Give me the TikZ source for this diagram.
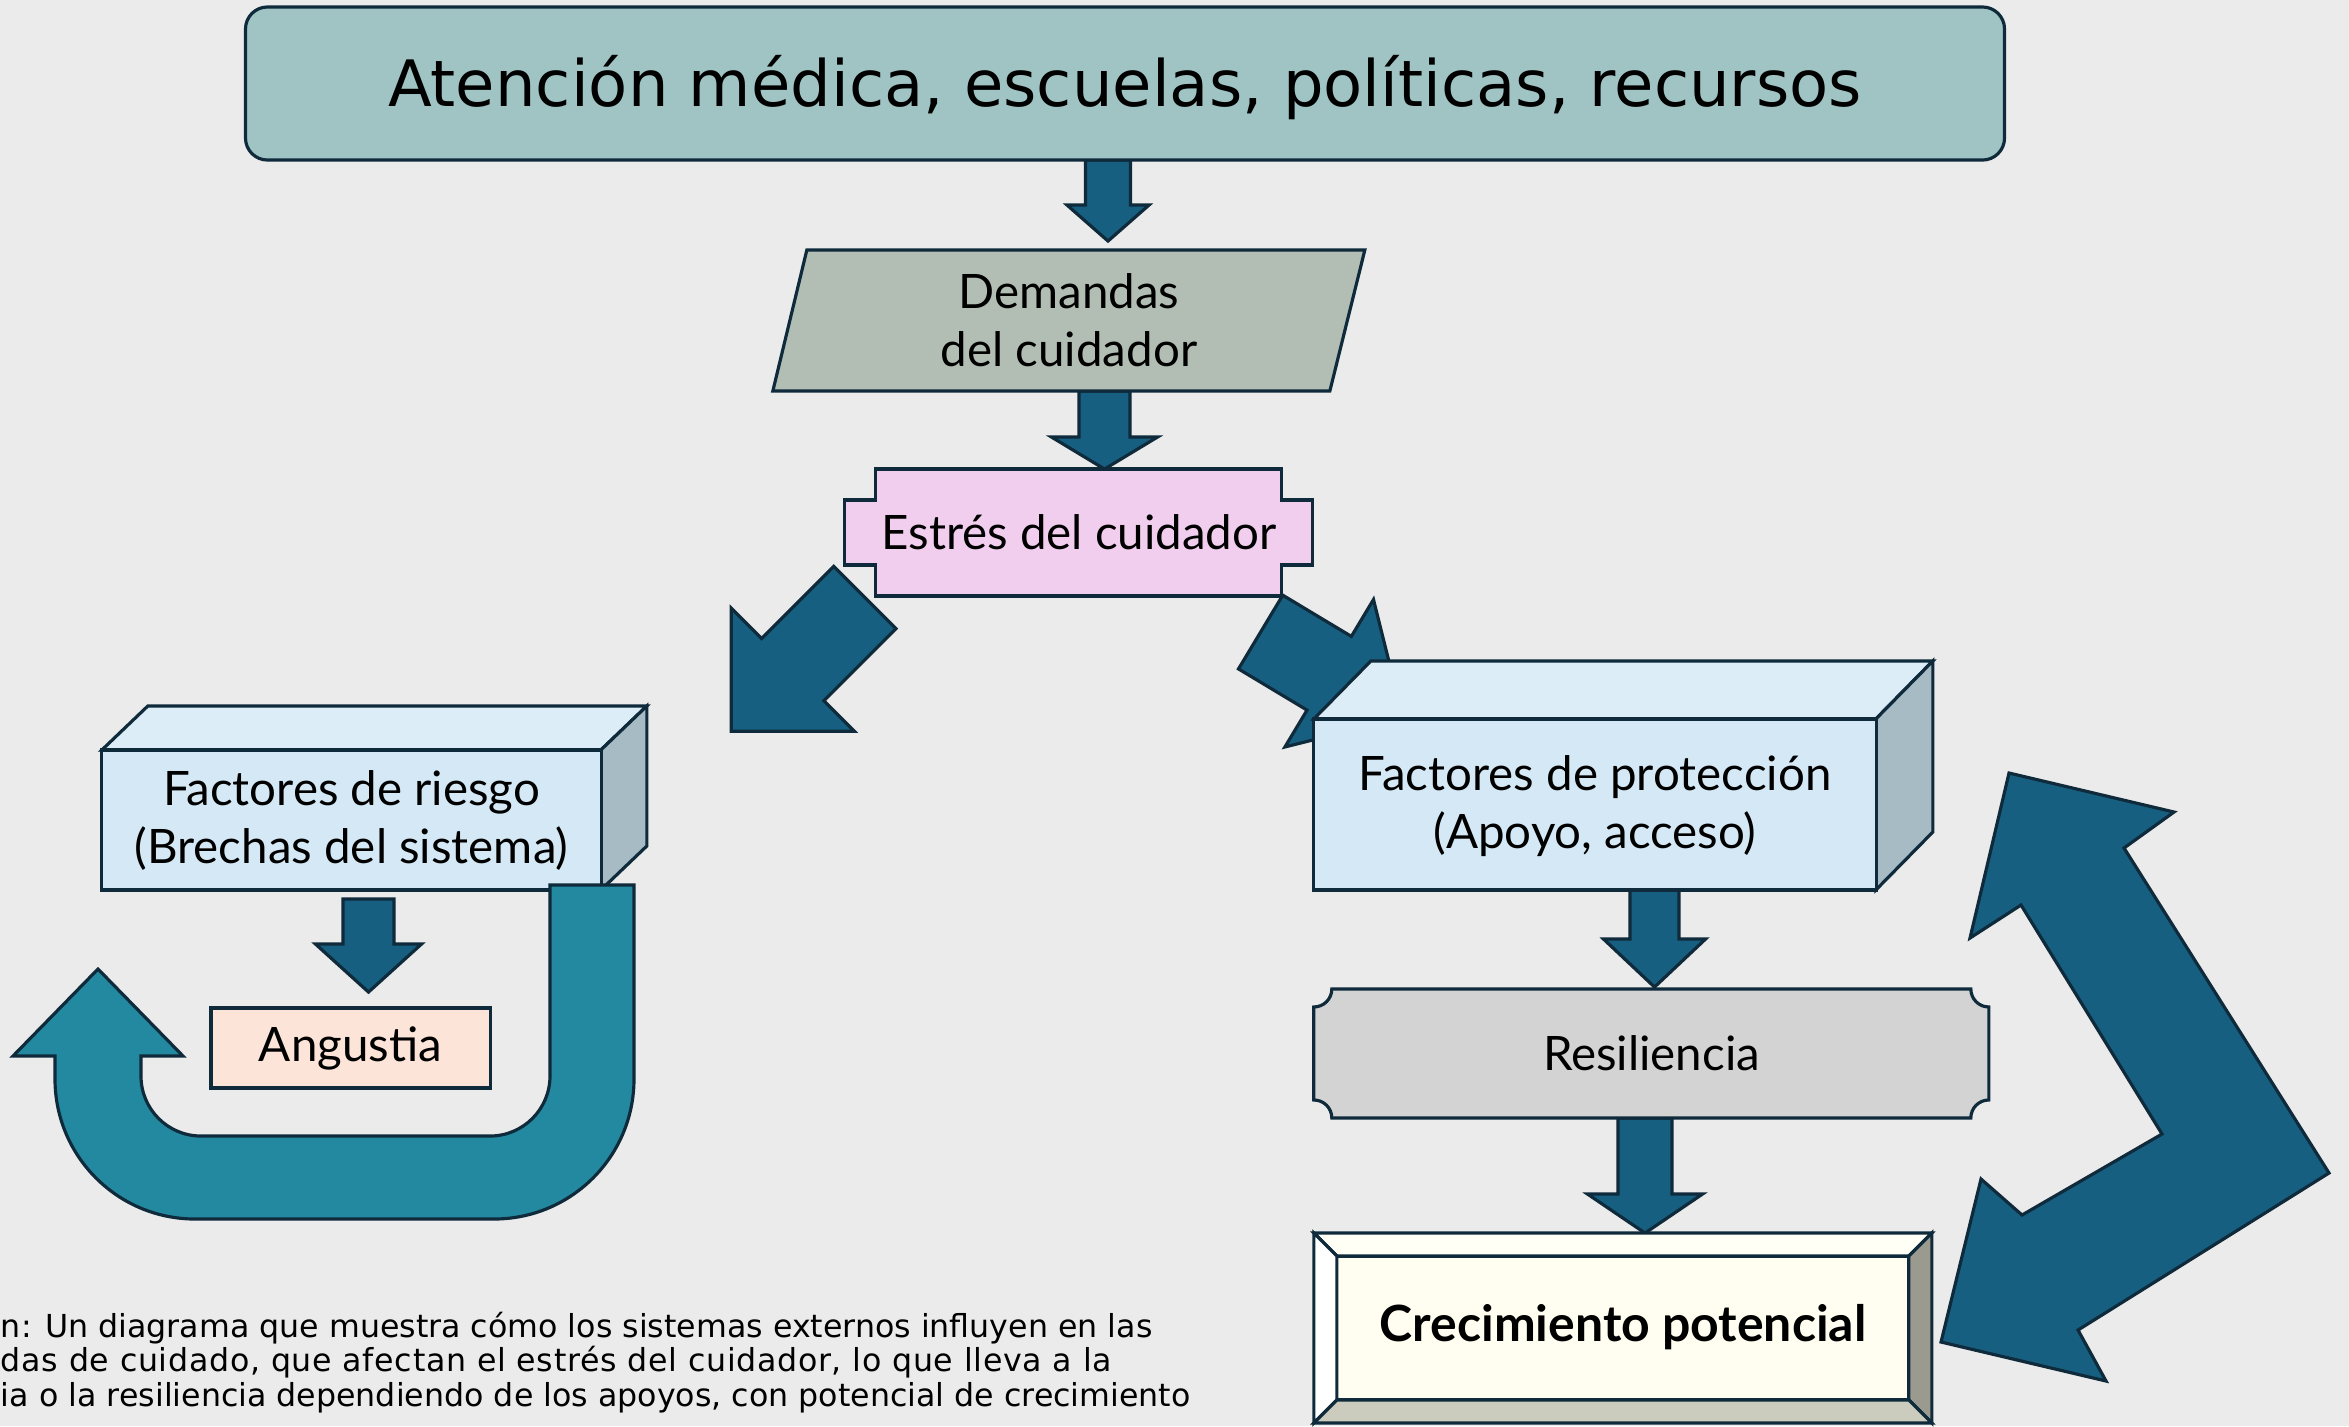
\documentclass[tikz,border=0pt]{standalone}
\usepackage{fontspec}
\setmainfont{Lato}
\newfontfamily\verdfont{DejaVu Sans}
\usetikzlibrary{calc}

\definecolor{bgcol}{HTML}{EBEBEB}
\definecolor{linecol}{HTML}{0E2A3B}
\definecolor{arrowcol}{HTML}{175F80}
\definecolor{loopcol}{HTML}{2389A0}
\definecolor{titlecol}{HTML}{A0C4C4}
\definecolor{demcol}{HTML}{B2BDB3}
\definecolor{estcol}{HTML}{F2CEEE}
\definecolor{frontcol}{HTML}{D4E9F5}
\definecolor{topcol}{HTML}{DCEDF7}
\definecolor{sidecol}{HTML}{A7BBC5}
\definecolor{angcol}{HTML}{FDE4D8}
\definecolor{rescol}{HTML}{D3D3D3}
\definecolor{crcol}{HTML}{FFFEF0}
\definecolor{bevtop}{HTML}{FFFFF6}
\definecolor{bevright}{HTML}{9A9A8E}
\definecolor{bevbottom}{HTML}{CBCBBE}

\pgfdeclarelayer{bglayer}
\pgfdeclarelayer{arrowlayer}
\pgfdeclarelayer{shapelayer}
\pgfsetlayers{bglayer,arrowlayer,shapelayer,main}

\tikzset{
  every node/.style={inner sep=0pt, outer sep=0pt},
  outline/.style={draw=linecol, line width=0.9pt},
  blockarrow/.style={outline, fill=arrowcol},
  lbl/.style={font=\fontsize{13.5}{16.5}\selectfont, align=center, text=black},
  capt/.style={font=\verdfont\fontsize{9}{9.8}\selectfont, align=left, text=black},
}

% block arrow: start, angle, shaft length, shaft half width, head half width, head length
\newcommand{\blockarr}[6]{%
  \begin{scope}[shift={#1}, rotate=#2]
    \filldraw[blockarrow] (0,-#4) -- (#3,-#4) -- (#3,-#5) -- ({#3+#6},0)
      -- (#3,#5) -- (#3,#4) -- (0,#4) -- cycle;
  \end{scope}}
% text lowered inside its node
\newcommand{\lowtext}[2]{\raisebox{-#1}[\height][\depth]{\begin{tabular}{@{}c@{}}#2\end{tabular}}}

\begin{document}
\begin{tikzpicture}[x=0.01cm, y=-0.01cm]
  \useasboundingbox (0,0) rectangle (2349,1426);
  \begin{pgfonlayer}{bglayer}
    \fill[bgcol] (0,0) rectangle (2349,1426);
  \end{pgfonlayer}

  % boxes
  \node[outline, fill=titlecol, rounded corners=0.22cm, minimum width=17.58cm, minimum height=1.53cm,
        font=\verdfont\fontsize{18.2}{22}\selectfont] (title) at (1125,83.5)
    {\lowtext{2.2pt}{Atención médica, escuelas, políticas, recursos}};
  \node[lbl, minimum width=5.58cm, minimum height=1.41cm] (dem) at (1069,320.5) {Demandas\\del cuidador};
  \node[lbl, minimum width=4.06cm, minimum height=1.27cm] (est) at (1079,532.5) {Estrés del cuidador};
  \node[lbl, outline, fill=frontcol, minimum width=4.99cm, minimum height=1.40cm] (fr) at (351.5,820)
    {\lowtext{0.9pt}{Factores de riesgo\\(Brechas del sistema)}};
  \node[lbl, outline, fill=angcol, minimum width=2.79cm, minimum height=0.80cm] (ang) at (350.5,1048) {Angustia};
  \node[lbl, outline, fill=frontcol, minimum width=5.62cm, minimum height=1.71cm] (fp) at (1595,804.5)
    {\lowtext{1pt}{Factores de protección\\(Apoyo, acceso)}};
  \node[lbl, font=\fontsize{14.2}{17}\selectfont\bfseries, minimum width=6.18cm, minimum height=1.90cm]
    (cr) at (1623,1328) {\lowtext{0.5pt}{Crecimiento potencial}};
  \node[lbl, minimum width=6.75cm, minimum height=1.29cm] (res) at (1651.5,1053.5) {Resiliencia};

  \node[capt, anchor=north west] (desc) at (1,1312)
    {n: Un diagrama que muestra cómo los sistemas externos influyen en las\\
     {\addfontfeature{LetterSpace=2.2}das de cuidado, que afectan el estrés del cuidador, lo que lleva a la}\\
     ia o la resiliencia dependiendo de los apoyos, con potencial de crecimiento};

  % shapes behind the texts
  \begin{pgfonlayer}{shapelayer}
    \begin{scope}[shift={(dem.north west)}]
      \filldraw[outline, fill=demcol] (17,0) -- (575,0) -- (540,141) -- (-17,141) -- cycle;
    \end{scope}
    \begin{scope}[shift={(est.north west)}]
      \filldraw[outline, fill=estcol] (0,0) -- (406,0) -- (406,31) -- (437,31) -- (437,96) -- (406,96)
        -- (406,127) -- (0,127) -- (0,96) -- (-31,96) -- (-31,31) -- (0,31) -- cycle;
    \end{scope}
    \begin{scope}[shift={(fr.north west)}]
      \filldraw[outline, fill=topcol] (0,0) -- (46,-44) -- (545,-44) -- (499,0) -- cycle;
      \filldraw[outline, fill=sidecol] (499,0) -- (545,-44) -- (545,96) -- (499,140) -- cycle;
    \end{scope}
    \begin{scope}[shift={(fp.north west)}]
      \filldraw[outline, fill=topcol] (0,0) -- (57,-58) -- (619,-58) -- (562,0) -- cycle;
      \filldraw[outline, fill=sidecol] (562,0) -- (619,-58) -- (619,113) -- (562,171) -- cycle;
    \end{scope}
    \begin{scope}[shift={(res.north west)}]
      \filldraw[outline, fill=rescol] (18,0) -- (657,0) arc[start angle=180, end angle=90, radius=18]
        -- (675,111) arc[start angle=270, end angle=180, radius=18]
        -- (18,129) arc[start angle=360, end angle=270, radius=18]
        -- (0,18) arc[start angle=90, end angle=0, radius=18] -- cycle;
    \end{scope}
    \begin{scope}[shift={(cr.north west)}]
      \filldraw[outline, fill=crcol] (23,23) rectangle (595,167);
      \filldraw[outline, fill=bevtop] (0,0) -- (618,0) -- (595,23) -- (23,23) -- cycle;
      \filldraw[outline, fill=white] (0,0) -- (23,23) -- (23,167) -- (0,190) -- cycle;
      \filldraw[outline, fill=bevright] (618,0) -- (618,190) -- (595,167) -- (595,23) -- cycle;
      \filldraw[outline, fill=bevbottom] (0,190) -- (618,190) -- (595,167) -- (23,167) -- cycle;
    \end{scope}
  \end{pgfonlayer}

  % arrows
  \begin{pgfonlayer}{arrowlayer}
    \blockarr{($(title.south)+(-17,0)$)}{-90}{45}{22.5}{41}{36}
    \blockarr{($(dem.south)+(35.5,0)$)}{-90}{46}{25.5}{53}{32}
    \blockarr{($(fr.south)+(17,9)$)}{-90}{45}{25.5}{53}{48}
    \blockarr{($(fp.south)+(59.5,0)$)}{-90}{49}{24.5}{51}{48}
    \blockarr{($(res.south)+(-6.5,0)$)}{-90}{76}{27}{57.5}{39}
    \blockarr{($(est.south west)+(-11,1.5)$)}{-135}{102}{44}{87}{87}
    \blockarr{($(est.south east)+(-21.5,36)$)}{-31}{80}{43}{86}{86}
    % bent two-way arrow
    \filldraw[blockarrow] (2009,773) -- (2174,812) -- (2124,848) -- (2329,1173) -- (2078,1330)
      -- (2106,1381) -- (1941,1342) -- (1981,1179) -- (2022,1215) -- (2162,1134)
      -- (2021,905) -- (1970,938) -- cycle;
  \end{pgfonlayer}

  % u-turn arrow
  \filldraw[outline, fill=loopcol] (634,885) -- (634,1079) arc[start angle=0, end angle=90, radius=140]
    -- (195,1219) arc[start angle=90, end angle=180, radius=140]
    -- (55,1056) -- (13,1056) -- (98,969) -- (183,1056) -- (141,1056)
    -- (141,1076) arc[start angle=180, end angle=90, radius=60]
    -- (490,1136) arc[start angle=90, end angle=0, radius=60] -- (550,885) -- cycle;
\end{tikzpicture}
\end{document}
